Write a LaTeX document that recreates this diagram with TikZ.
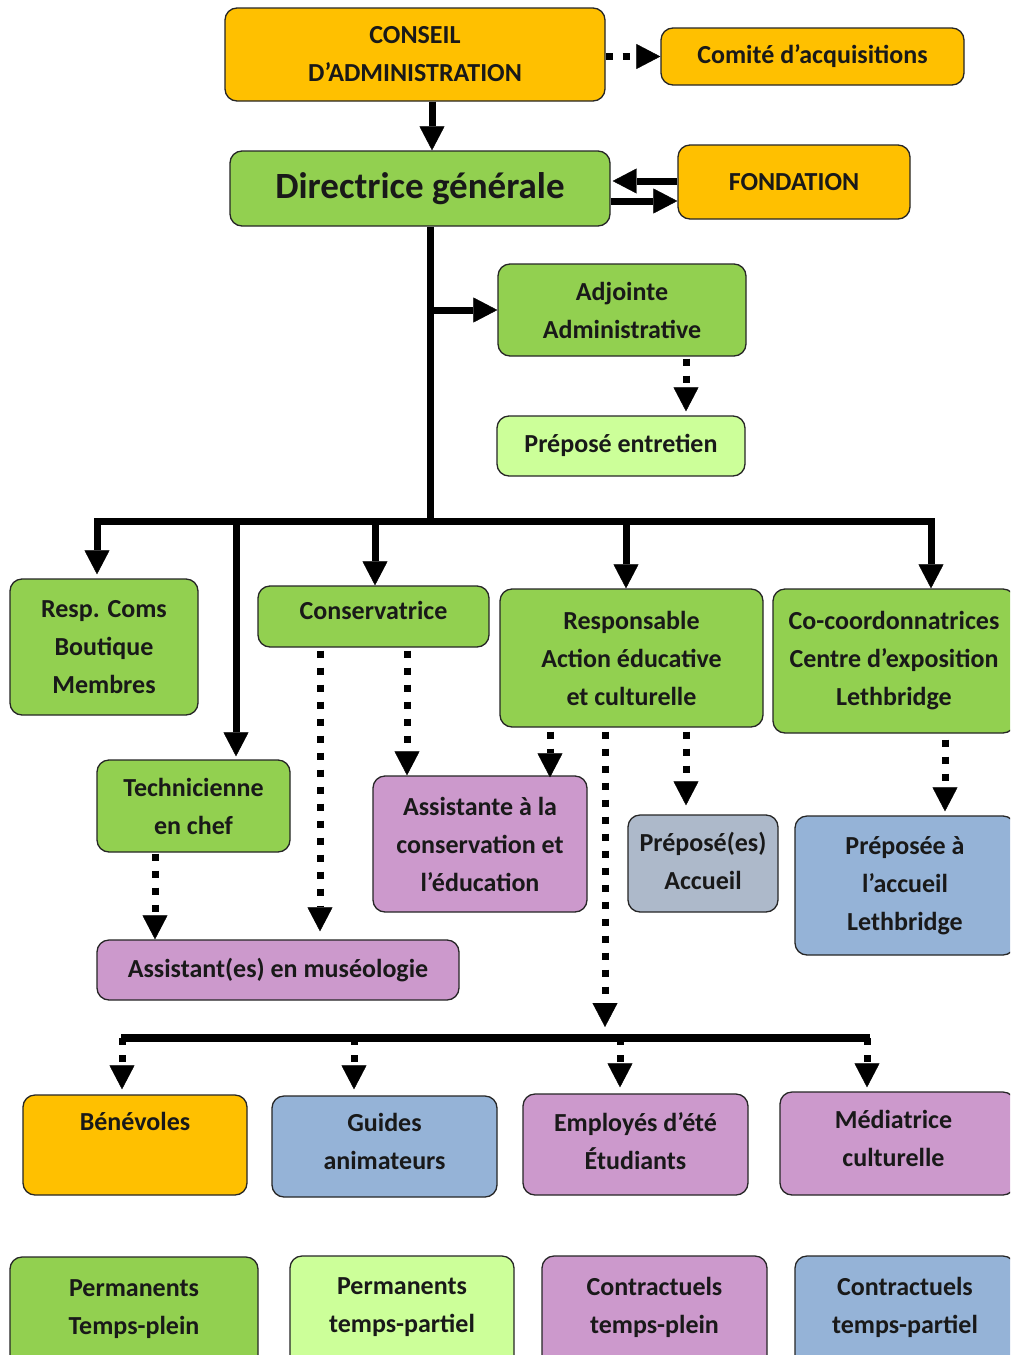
\documentclass[tikz,border=0pt]{standalone}
\usepackage{fontspec}
\setmainfont{Carlito}
\usetikzlibrary{arrows.meta,calc}
\definecolor{orng}{HTML}{FFC000}
\definecolor{grn}{HTML}{92D050}
\definecolor{lgrn}{HTML}{CCFF99}
\definecolor{pnk}{HTML}{CC99CC}
\definecolor{blu}{HTML}{95B3D7}
\definecolor{gblu}{HTML}{ADB9CA}
\begin{document}
\begin{tikzpicture}[x=1pt,y=-1pt,
  box/.style={draw=black!85, line width=1.3pt, rounded corners=12pt, align=center,
    font=\bfseries\fontsize{26}{38}\selectfont, inner sep=0pt, text=black!90},
  sarrow/.style={line width=7pt, -{Triangle[width=25pt,length=24pt,line width=0.4pt]}},
  darrow/.style={line width=7pt, dash pattern=on 7pt off 10pt, -{Triangle[width=25pt,length=24pt,line width=0.4pt]}},
  bar/.style={line width=7pt}]
\useasboundingbox (0,0) rectangle (1010,1355);
\clip (0,0) rectangle (1010,1355);
\fill[white] (0,0) rectangle (1010,1355);

% boxes
\node[box, fill=orng, minimum width=380pt, minimum height=93pt] (conseil) at (415,54.5) {CONSEIL\\D’ADMINISTRATION};
\node[box, fill=orng, minimum width=303pt, minimum height=57pt] (comite) at (812.5,56.5) {Comité d’acquisitions};
\node[box, fill=grn, minimum width=380pt, minimum height=75pt, font=\bfseries\fontsize{37}{44}\selectfont] (dg) at (420,188.5) {Directrice générale};
\node[box, fill=orng, minimum width=232pt, minimum height=74pt] (fond) at (794,182) {\raisebox{-4pt}{FONDATION}};
\node[box, fill=grn, minimum width=248pt, minimum height=92pt] (adj) at (622,310) {Adjointe\\Administrative};
\node[box, fill=lgrn, minimum width=248pt, minimum height=60pt] (prepent) at (621,446) {\raisebox{6pt}{Préposé entretien}};
\node[box, fill=grn, minimum width=188pt, minimum height=136pt] (resp) at (104,647) {Resp. Coms\\Boutique\\Membres};
\node[box, fill=grn, minimum width=231pt, minimum height=61pt] (cons) at (373.5,616.5) {\raisebox{12pt}{Conservatrice}};
\node[box, fill=grn, minimum width=263pt, minimum height=138pt] (respae) at (631.5,658) {Responsable\\Action éducative\\et culturelle};
\node[box, fill=grn, minimum width=242pt, minimum height=144pt] (cocoord) at (894,661) {Co-coordonnatrices\\Centre d’exposition\\Lethbridge};
\node[box, fill=grn, minimum width=193pt, minimum height=92pt] (tech) at (193.5,806) {Technicienne\\en chef};
\node[box, fill=pnk, minimum width=214pt, minimum height=136pt] (asscons) at (480,844) {Assistante à la\\conservation et\\l’éducation};
\node[box, fill=gblu, minimum width=150pt, minimum height=97pt] (prepacc) at (703,863.5) {Préposé(es)\\Accueil\\[-32pt]\mbox{}};
\node[box, fill=blu, minimum width=220pt, minimum height=139pt] (prepleth) at (905,885.5) {Préposée à\\l’accueil\\Lethbridge};
\node[box, fill=pnk, minimum width=362pt, minimum height=60pt] (assmus) at (278,970) {Assistant(es) en muséologie};
\node[box, fill=orng, minimum width=224pt, minimum height=100pt] (benev) at (135,1145) {Bénévoles\\[10pt]\mbox{}};
\node[box, fill=blu, minimum width=225pt, minimum height=101pt] (guides) at (384.5,1146.5) {Guides\\animateurs\\[-28pt]\mbox{}};
\node[box, fill=pnk, minimum width=225pt, minimum height=101pt] (employes) at (635.5,1144.5) {Employés d’été\\Étudiants\\[-32pt]\mbox{}};
\node[box, fill=pnk, minimum width=235pt, minimum height=103pt] (mediatrice) at (897.5,1143.5) {\hspace*{-8pt}Médiatrice\\\hspace*{-8pt}culturelle\\[-28pt]\mbox{}};
\node[box, fill=grn, minimum width=248pt, minimum height=113pt] (permtp) at (134,1313.5) {Permanents\\Temps-plein\\[-26pt]\mbox{}};
\node[box, fill=lgrn, minimum width=224pt, minimum height=114pt] (permtpa) at (402,1313) {Permanents\\temps-partiel\\[-22pt]\mbox{}};
\node[box, fill=pnk, minimum width=225pt, minimum height=114pt] (contrtp) at (654.5,1313) {Contractuels\\temps-plein\\[-22pt]\mbox{}};
\node[box, fill=blu, minimum width=220pt, minimum height=114pt] (contrtpa) at (905,1313) {Contractuels\\temps-partiel\\[-22pt]\mbox{}};

% reference coordinates
\coordinate (c432) at (432,0);
\coordinate (yf1) at (0,181);
\coordinate (yf2) at (0,201);
\coordinate (bus) at (430,521);
\coordinate (busL) at (97,521);
\coordinate (busR) at (931,521);
\coordinate (c236) at (236,0);
\coordinate (c375) at (375,0);
\coordinate (c626) at (626,0);
\coordinate (c686) at (686,0);
\coordinate (c320) at (320,0);
\coordinate (c407) at (407,0);
\coordinate (c155) at (155,0);
\coordinate (c550) at (550,0);
\coordinate (c605) at (605,0);
\coordinate (c945) at (945,0);
\coordinate (bus2L) at (121,1038);
\coordinate (bus2R) at (870,1038);
\coordinate (c122) at (122,0);
\coordinate (c354) at (354,0);
\coordinate (c620) at (620,0);
\coordinate (c867) at (867,0);

% connectors
\draw[sarrow] (conseil.south -| c432) -- (dg.north -| c432);
\draw[darrow] (conseil.east |- comite.west) -- (comite.west);
\draw[sarrow] (fond.west |- yf1) -- ([xshift=2pt]dg.east |- yf1);
\draw[sarrow] (dg.east |- yf2) -- (fond.west |- yf2);
\draw[bar] (dg.south -| bus) -- (bus);
\draw[sarrow] (bus |- adj.west) -- (adj.west);
\draw[darrow, shorten <=2pt, shorten >=4pt] (c686 |- adj.south) -- (c686 |- prepent.north);
\draw[sarrow, line join=miter] (bus) -- (busL) -- ([yshift=4pt]busL |- resp.north);
\draw[sarrow, line join=miter] (bus) -- (busR) -- (busR |- cocoord.north);
\draw[sarrow] (c236 |- bus) -- ([yshift=3pt]c236 |- tech.north);
\draw[sarrow] (c375 |- bus) -- (c375 |- cons.north);
\draw[sarrow] (c626 |- bus) -- (c626 |- respae.north);
\draw[darrow, shorten <=3pt] (c320 |- cons.south) -- ([yshift=8pt]c320 |- assmus.north);
\draw[darrow, shorten <=3pt] (c407 |- cons.south) -- (c407 |- asscons.north);
\draw[darrow, shorten <=1pt] (c155 |- tech.south) -- (c155 |- assmus.north);
\draw[darrow, shorten <=4pt] (c550 |- respae.south) -- ([yshift=-2pt]c550 |- asscons.north);
\draw[darrow, shorten <=4pt] (c605 |- respae.south) -- ([yshift=11pt]c605 |- bus2L);
\draw[darrow, shorten <=4pt] (c686 |- respae.south) -- ([yshift=9pt]c686 |- prepacc.north);
\draw[darrow, shorten <=6pt] (c945 |- cocoord.south) -- ([yshift=4pt]c945 |- prepleth.north);
\draw[line width=8pt] (bus2L) -- (bus2R);
\draw[darrow] (c122 |- bus2L) -- ([yshift=5pt]c122 |- benev.north);
\draw[darrow] (c354 |- bus2L) -- ([yshift=6pt]c354 |- guides.north);
\draw[darrow] (c620 |- bus2L) -- ([yshift=6pt]c620 |- employes.north);
\draw[darrow] (c867 |- bus2L) -- ([yshift=4pt]c867 |- mediatrice.north);
\end{tikzpicture}
\end{document}
